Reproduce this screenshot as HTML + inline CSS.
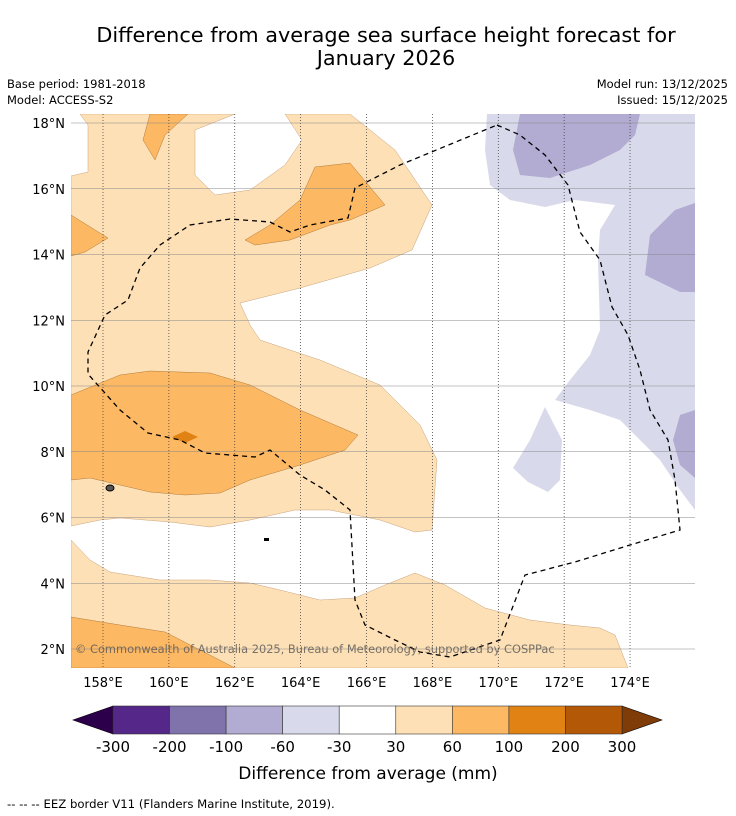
<!DOCTYPE html>
<html><head><meta charset="utf-8"><style>
html,body{margin:0;padding:0;background:#fff;width:736px;height:816px;overflow:hidden}
svg{display:block;font-family:"DejaVu Sans","Liberation Sans",sans-serif}
</style></head><body>
<svg id="root" width="736" height="816" viewBox="0 0 736 816">
<text x="386" y="42" text-anchor="middle" font-size="20.8" fill="#000">Difference from average sea surface height forecast for</text>
<text x="386" y="65" text-anchor="middle" font-size="20.8" fill="#000">January 2026</text>
<text x="7" y="88" font-size="11.5">Base period: 1981-2018</text>
<text x="7" y="104" font-size="11.5">Model: ACCESS-S2</text>
<text x="728" y="88" font-size="11.5" text-anchor="end">Model run: 13/12/2025</text>
<text x="728" y="104" font-size="11.5" text-anchor="end">Issued: 15/12/2025</text>
<defs><clipPath id="mc"><rect x="71" y="114" width="624" height="554"/></clipPath></defs>
<g clip-path="url(#mc)">
<rect x="71" y="114" width="624" height="554" fill="#fff"/>
<polygon fill="#fee0b6" stroke="#c9a27a" stroke-width="0.5" points="71,176 88,172 88,125 80,114 235,114 195,130 195,175 215,195 250,190 285,165 302,140 285,114 350,114 395,150 432,205 412,250 370,268 300,288 240,303 250,325 260,340 320,360 380,385 420,425 437,460 432,530 415,532 380,520 330,510 295,510 250,520 210,527 170,522 120,518 100,520 71,526"/>
<polygon fill="#fee0b6" stroke="#c9a27a" stroke-width="0.5" points="71,540 90,560 110,572 160,580 210,580 250,583 280,590 320,600 355,598 385,585 415,573 445,585 485,608 530,620 570,625 600,628 615,635 628,668 71,668"/>
<polygon fill="#fdb863" stroke="#b07a3a" stroke-width="0.5" points="150,114 188,114 165,135 155,160 143,140"/>
<polygon fill="#fdb863" stroke="#b07a3a" stroke-width="0.5" points="71,215 108,238 85,252 71,256"/>
<polygon fill="#fdb863" stroke="#b07a3a" stroke-width="0.5" points="245,240 270,225 300,200 315,167 350,163 385,205 350,220 330,225 290,240 255,245"/>
<polygon fill="#fdb863" stroke="#b07a3a" stroke-width="0.5" points="71,395 120,375 150,371 210,373 250,385 300,410 358,435 345,450 300,465 250,480 220,493 185,495 150,492 120,485 90,478 71,480"/>
<polygon fill="#fdb863" stroke="#b07a3a" stroke-width="0.5" points="71,617 120,625 165,632 200,650 235,668 71,668"/>
<polygon fill="#e08214" points="172,437 185,431 198,437 185,443"/>
<polygon fill="#d8daeb" points="487,114 695,114 695,510 680,490 660,460 640,440 620,420 590,410 555,400 570,380 590,355 600,330 598,260 600,230 615,205 575,200 545,207 510,200 490,185 485,150"/>
<polygon fill="#d8daeb" points="545,407 562,440 560,480 548,492 528,482 513,468 530,440"/>
<polygon fill="#b2abd2" points="520,114 640,114 635,135 620,150 590,165 550,178 520,175 513,150"/>
<polygon fill="#b2abd2" points="695,203 675,210 650,235 645,275 680,292 695,292"/>
<polygon fill="#b2abd2" points="695,410 680,415 673,440 680,465 695,478"/>
<g id="grid"></g>
<polyline fill="none" stroke="#000" stroke-width="1.3" stroke-dasharray="5,4" points="497,125 520,135 545,155 568,185 580,232 600,260 612,307 628,335 640,370 650,410 668,440 675,480 680,530 630,545 575,562 525,575 500,640 450,657 420,652 395,640 365,625 355,600 350,510 325,490 300,475 270,450 255,457 205,453 180,440 148,433 120,410 88,374 88,352 105,315 128,300 140,268 160,245 190,225 230,219 270,222 290,232 310,225 348,218 355,188 400,165 497,125"/>
<ellipse cx="110" cy="488" rx="4" ry="3" fill="#555" stroke="#000"/>
<rect x="264" y="538" width="5" height="3" fill="#000"/>
<text x="75" y="653" font-size="11.4" fill="#555" fill-opacity="0.8">© Commonwealth of Australia 2025, Bureau of Meteorology, supported by COSPPac</text>
</g>
<g id="axes"></g>
<g id="cbar"></g>
<text x="368" y="779" text-anchor="middle" font-size="17">Difference from average (mm)</text>
<text x="7" y="808" font-size="11.7">--  --  -- EEZ border V11 (Flanders Marine Institute, 2019).</text>
</svg>
<script>
const lonTicks=[158,160,162,164,166,168,170,172,174];
const latTicks=[18,16,14,12,10,8,6,4,2];
const cbLevels=["-300","-200","-100","-60","-30","30","60","100","200","300"];
const cbColors=["#542788","#8073ac","#b2abd2","#d8daeb","#ffffff","#fee0b6","#fdb863","#e08214","#b35806"];
const cbUnder="#2d004b", cbOver="#7f3b08";
const NS="http://www.w3.org/2000/svg";
const xLon=l=>103+(l-158)*32.94;
const yLat=l=>123+(18-l)*32.875;
function mk(t,a,p){const e=document.createElementNS(NS,t);for(const k in a)e.setAttribute(k,a[k]);p.appendChild(e);return e;}
const grid=document.getElementById('grid'),axes=document.getElementById('axes'),cb=document.getElementById('cbar');
lonTicks.forEach(l=>{
 const ln=mk('line',{x1:xLon(l),x2:xLon(l),y1:114,y2:668,stroke:'#333','stroke-width':0.7,'stroke-dasharray':'1,2'},grid);
 
 
 const t=mk('text',{x:xLon(l),y:687,'text-anchor':'middle','font-size':13},axes);t.textContent=l+'°E';
 
 
});
latTicks.forEach(l=>{
 const ln=mk('line',{x1:71,x2:695,y1:yLat(l),y2:yLat(l),stroke:'#888','stroke-width':0.6},grid);
 
 
 const t=mk('text',{x:65,y:yLat(l)+5,'text-anchor':'end','font-size':13},axes);t.textContent=l+'°N';
 
 
});
const x0=113,x1=622,y0=706,y1=734,w=(x1-x0)/cbColors.length;
const lt=mk('polygon',{points:`${x0},${y0} ${x0},${y1} 73,${(y0+y1)/2}`,fill:cbUnder,stroke:'#000','stroke-width':0.6},cb);


const rt=mk('polygon',{points:`${x1},${y0} ${x1},${y1} 662,${(y0+y1)/2}`,fill:cbOver,stroke:'#000','stroke-width':0.6},cb);


cbColors.forEach((c,i)=>{
 const r=mk('rect',{x:x0+i*w,y:y0,width:w,height:y1-y0,fill:c,stroke:'#333','stroke-width':0.6},cb);
 
 
});
cbLevels.forEach((s,i)=>{
 const t=mk('text',{x:x0+i*w,y:752,'text-anchor':'middle','font-size':15},cb);t.textContent=s;
 
 
});
</script>
</body></html>
